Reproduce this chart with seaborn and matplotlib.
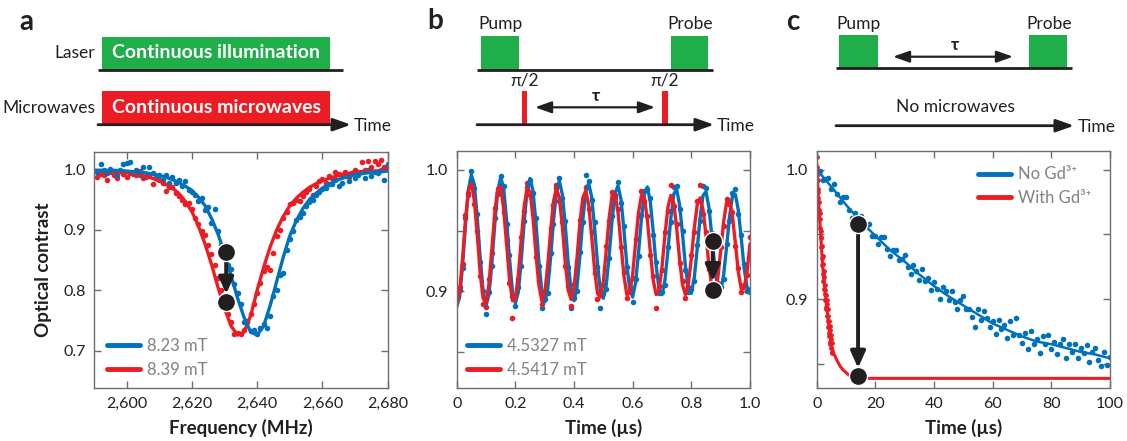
import numpy as np
import matplotlib
matplotlib.use("Agg")
import matplotlib.pyplot as plt
import seaborn as sns
from matplotlib.patches import Rectangle
from matplotlib.lines import Line2D

# ---------------- data ----------------
# Panel a: ODMR spectra (frequency in MHz)
freq_dots = np.arange(2591, 2681)
blue_a_dots = [0.996, 1.008, 0.999, 0.993, 1.000, 0.997, 0.990, 0.998, 1.008, 1.011,
               1.012, 0.994, 0.998, 0.991, 1.004, 0.989, 1.003, 0.993, 0.985, 0.991,
               0.983, 0.990, 0.978, 0.987, 0.978, 0.982, 0.972, 0.980, 0.966, 0.963,
               0.958, 0.948, 0.952, 0.932, 0.938, 0.911, 0.935, 0.898, 0.874, 0.875,
               0.842, 0.835, 0.810, 0.795, 0.778, 0.748, 0.750, 0.732, 0.735, 0.728,
               0.738, 0.745, 0.737, 0.758, 0.790, 0.800, 0.826, 0.829, 0.866, 0.885,
               0.898, 0.916, 0.921, 0.928, 0.940, 0.946, 0.950, 0.958, 0.962, 0.967,
               0.969, 0.975, 0.976, 0.982, 0.972, 0.978, 0.989, 0.980, 0.993, 0.986,
               0.990, 0.996, 0.985, 0.998, 0.989, 0.996, 0.993, 0.999, 0.982, 1.009]
red_a_dots = [0.987, 0.992, 0.990, 0.983, 0.995, 0.991, 0.986, 0.997, 0.992, 0.988,
              0.994, 0.992, 0.990, 0.997, 0.985, 0.988, 0.991, 0.975, 0.985, 0.982,
              0.978, 0.964, 0.970, 0.970, 0.960, 0.955, 0.950, 0.942, 0.945, 0.935,
              0.920, 0.910, 0.898, 0.892, 0.875, 0.860, 0.842, 0.820, 0.800, 0.780,
              0.760, 0.748, 0.728, 0.730, 0.727, 0.735, 0.748, 0.760, 0.778, 0.795,
              0.812, 0.832, 0.838, 0.834, 0.862, 0.890, 0.900, 0.920, 0.930, 0.942,
              0.945, 0.950, 0.948, 0.956, 0.962, 0.968, 0.958, 0.972, 0.981, 0.984,
              0.978, 0.989, 0.985, 0.995, 0.992, 0.990, 0.996, 0.988, 0.993, 0.998,
              0.995, 1.012, 0.999, 1.013, 1.003, 1.014, 1.008, 1.015, 1.003, 1.005]
freq_fit = np.arange(2590, 2681, 2)
blue_a_fit = [0.998, 0.998, 0.998, 0.998, 0.998, 0.997, 0.996, 0.995, 0.994, 0.992,
              0.990, 0.987, 0.983, 0.978, 0.972, 0.965, 0.954, 0.940, 0.919, 0.893,
              0.861, 0.824, 0.787, 0.755, 0.731, 0.726, 0.741, 0.775, 0.815, 0.855,
              0.890, 0.915, 0.935, 0.950, 0.960, 0.969, 0.975, 0.981, 0.985, 0.988,
              0.991, 0.993, 0.994, 0.995, 0.996, 0.997]
red_a_fit = [0.998, 0.998, 0.997, 0.996, 0.995, 0.994, 0.993, 0.991, 0.988, 0.985,
             0.981, 0.975, 0.969, 0.960, 0.947, 0.930, 0.906, 0.877, 0.843, 0.805,
             0.770, 0.741, 0.726, 0.731, 0.758, 0.800, 0.838, 0.872, 0.900, 0.922,
             0.940, 0.952, 0.962, 0.970, 0.976, 0.981, 0.985, 0.988, 0.991, 0.993,
             0.995, 0.996, 0.997, 0.997, 0.998, 0.998]
legend_a = ["8.23 mT", "8.39 mT"]
marker_a_x = [2630.5, 2630.5]
marker_a_y = [0.864, 0.780]

# Panel b: Ramsey fringes (time in us)
time_b = np.round(np.arange(101) * 0.01, 2)
blue_b_fit = [0.887, 0.895, 0.921, 0.955, 0.984, 0.996, 0.988, 0.961, 0.928, 0.900,
              0.888, 0.897, 0.923, 0.956, 0.983, 0.994, 0.985, 0.959, 0.927, 0.900,
              0.890, 0.899, 0.925, 0.957, 0.983, 0.993, 0.983, 0.957, 0.925, 0.900,
              0.891, 0.901, 0.927, 0.958, 0.982, 0.991, 0.980, 0.955, 0.924, 0.900,
              0.892, 0.903, 0.929, 0.959, 0.982, 0.989, 0.978, 0.953, 0.923, 0.900,
              0.894, 0.905, 0.930, 0.959, 0.981, 0.987, 0.976, 0.951, 0.922, 0.901,
              0.895, 0.907, 0.932, 0.960, 0.980, 0.986, 0.974, 0.949, 0.921, 0.901,
              0.897, 0.909, 0.933, 0.960, 0.980, 0.984, 0.971, 0.947, 0.920, 0.902,
              0.898, 0.911, 0.935, 0.961, 0.979, 0.982, 0.969, 0.945, 0.920, 0.902,
              0.900, 0.913, 0.936, 0.961, 0.978, 0.980, 0.967, 0.944, 0.919, 0.903,
              0.901]
blue_b_dots = [0.893, 0.901, 0.919, 0.960, 0.981, 0.999, 0.985, 0.964, 0.924, 0.900,
               0.881, 0.899, 0.921, 0.960, 0.980, 0.995, 0.987, 0.955, 0.930, 0.896,
               0.888, 0.903, 0.921, 0.958, 0.986, 0.992, 0.981, 0.960, 0.921, 0.886,
               0.893, 0.898, 0.931, 0.955, 0.985, 0.993, 0.977, 0.958, 0.920, 0.886,
               0.894, 0.900, 0.932, 0.957, 0.996, 0.991, 0.975, 0.957, 0.920, 0.886,
               0.898, 0.902, 0.927, 0.962, 0.979, 0.990, 0.973, 0.954, 0.920, 0.903,
               0.891, 0.910, 0.929, 0.963, 0.983, 0.984, 0.977, 0.946, 0.924, 0.898,
               0.899, 0.905, 0.936, 0.957, 0.986, 0.987, 0.968, 0.950, 0.917, 0.899,
               0.902, 0.908, 0.938, 0.958, 0.987, 0.985, 0.966, 0.948, 0.917, 0.905,
               0.903, 0.910, 0.939, 0.958, 0.981, 0.984, 0.964, 0.946, 0.922, 0.900,
               0.899]
red_b_fit = [0.888, 0.900, 0.927, 0.959, 0.983, 0.989, 0.975, 0.947, 0.915, 0.894,
             0.890, 0.906, 0.935, 0.965, 0.985, 0.986, 0.968, 0.939, 0.910, 0.892,
             0.893, 0.913, 0.942, 0.970, 0.985, 0.982, 0.961, 0.931, 0.905, 0.892,
             0.898, 0.920, 0.949, 0.974, 0.985, 0.977, 0.954, 0.924, 0.901, 0.893,
             0.903, 0.927, 0.956, 0.977, 0.983, 0.971, 0.946, 0.918, 0.898, 0.895,
             0.908, 0.934, 0.961, 0.979, 0.980, 0.965, 0.939, 0.913, 0.897, 0.898,
             0.914, 0.940, 0.965, 0.979, 0.977, 0.959, 0.933, 0.909, 0.897, 0.901,
             0.920, 0.946, 0.969, 0.979, 0.973, 0.952, 0.926, 0.905, 0.897, 0.906,
             0.927, 0.952, 0.971, 0.977, 0.967, 0.946, 0.921, 0.903, 0.899, 0.910,
             0.933, 0.957, 0.973, 0.975, 0.962, 0.940, 0.916, 0.902, 0.902, 0.916,
             0.939]
red_b_dots = [0.896, 0.903, 0.922, 0.963, 0.979, 0.992, 0.972, 0.950, 0.912, 0.889,
              0.887, 0.910, 0.931, 0.969, 0.982, 0.988, 0.965, 0.942, 0.907, 0.878,
              0.896, 0.910, 0.945, 0.966, 0.989, 0.979, 0.964, 0.928, 0.908, 0.889,
              0.900, 0.917, 0.952, 0.971, 0.988, 0.974, 0.957, 0.921, 0.904, 0.888,
              0.906, 0.924, 0.959, 0.973, 0.986, 0.968, 0.949, 0.915, 0.893, 0.898,
              0.905, 0.937, 0.958, 0.982, 0.977, 0.968, 0.936, 0.916, 0.894, 0.901,
              0.911, 0.943, 0.962, 0.983, 0.974, 0.962, 0.930, 0.912, 0.886, 0.904,
              0.917, 0.949, 0.966, 0.988, 0.970, 0.955, 0.923, 0.908, 0.894, 0.903,
              0.930, 0.949, 0.974, 0.988, 0.964, 0.949, 0.918, 0.898, 0.902, 0.907,
              0.936, 0.954, 0.976, 0.972, 0.965, 0.937, 0.919, 0.899, 0.905, 0.913,
              0.945]
legend_b = ["4.5327 mT", "4.5417 mT"]
marker_b_x = [0.873, 0.873]
marker_b_y = [0.941, 0.901]

# Panel c: relaxation (time in us)
time_c_dots = np.arange(0, 101)
blue_c_dots = [0.999, 0.999, 0.992, 0.993, 0.994, 0.985, 0.989, 0.981, 0.975, 0.979,
               0.979, 0.969, 0.963, 0.967, 0.963, 0.964, 0.955, 0.957, 0.958, 0.949,
               0.949, 0.943, 0.948, 0.948, 0.939, 0.933, 0.938, 0.938, 0.930, 0.931,
               0.934, 0.925, 0.919, 0.926, 0.922, 0.915, 0.923, 0.914, 0.916, 0.907,
               0.913, 0.908, 0.900, 0.909, 0.906, 0.899, 0.906, 0.898, 0.892, 0.899,
               0.902, 0.892, 0.892, 0.886, 0.878, 0.892, 0.884, 0.891, 0.885, 0.878,
               0.883, 0.873, 0.884, 0.877, 0.880, 0.870, 0.883, 0.872, 0.885, 0.872,
               0.866, 0.874, 0.861, 0.875, 0.865, 0.869, 0.858, 0.871, 0.865, 0.872,
               0.861, 0.867, 0.857, 0.865, 0.869, 0.854, 0.865, 0.859, 0.865, 0.854,
               0.862, 0.858, 0.864, 0.851, 0.859, 0.862, 0.853, 0.848, 0.859, 0.849,
               0.855]
time_c_fit_blue = [0, 2, 5, 10, 15, 20, 25, 30, 35, 40, 45, 50, 55, 60, 65, 70, 75,
                   80, 85, 90, 95, 100]
blue_c_fit = [1.000, 0.995, 0.987, 0.973, 0.960, 0.949, 0.938, 0.929, 0.919, 0.910,
              0.902, 0.895, 0.888, 0.881, 0.876, 0.871, 0.867, 0.865, 0.862, 0.859,
              0.857, 0.854]
time_c_red_dots = np.round(np.arange(54) * 0.1, 1)
red_c_dots = [1.010, 0.996, 1.002, 0.985, 0.992, 0.978, 0.983, 0.969, 0.975, 0.962,
              0.967, 0.955, 0.962, 0.948, 0.953, 0.940, 0.947, 0.932, 0.941, 0.926,
              0.933, 0.919, 0.927, 0.914, 0.922, 0.908, 0.917, 0.904, 0.911, 0.899,
              0.907, 0.894, 0.903, 0.892, 0.899, 0.887, 0.896, 0.883, 0.892, 0.878,
              0.887, 0.874, 0.883, 0.871, 0.879, 0.867, 0.876, 0.865, 0.872, 0.862,
              0.869, 0.859, 0.866, 0.858]
time_c_fit_red = [0, 0.5, 1, 1.5, 2, 2.5, 3, 3.5, 4, 4.5, 5, 6, 7, 8, 9, 10, 11, 12,
                  14, 16, 100]
red_c_fit = [1.005, 0.982, 0.963, 0.944, 0.927, 0.913, 0.902, 0.893, 0.882, 0.872,
             0.864, 0.857, 0.852, 0.848, 0.845, 0.843, 0.841, 0.840, 0.839, 0.8385,
             0.8385]
legend_c = ["No Gd³⁺", "With Gd³⁺"]
marker_c_x = [14.1, 14.1]
marker_c_y = [0.958, 0.840]

# ---------------- style ----------------
sns.set_style("ticks")
plt.rcParams['font.family'] = ['Lato', 'DejaVu Sans']

BLUE = '#0072BC'
RED = '#ED1C24'
GREEN = '#20AE4A'
DARK = '#231F20'
FRAME = '#6D6E71'
LEGTXT = '#808285'

fig = plt.figure(figsize=(11.27, 4.41), dpi=100)

# overlay for the timing diagrams (pixel coordinates)
ov = fig.add_axes([0, 0, 1, 1])
ov.set_xlim(0, 1127)
ov.set_ylim(441, 0)
ov.axis('off')
ov.patch.set_visible(False)


def hline(x1, x2, y, arrow=False):
    if arrow:
        ov.annotate('', xy=(x2, y), xytext=(x1, y),
                    arrowprops=dict(arrowstyle='-|>,head_length=0.9,head_width=0.32',
                                    lw=2, color=DARK, mutation_scale=12,
                                    shrinkA=0, shrinkB=0))
    else:
        ov.plot([x1, x2], [y, y], color=DARK, lw=2, solid_capstyle='butt')


def darrow(x1, x2, y):
    ov.annotate('', xy=(x2, y), xytext=(x1, y),
                arrowprops=dict(arrowstyle='<|-|>,head_length=0.9,head_width=0.32',
                                lw=1.6, color=DARK, mutation_scale=11,
                                shrinkA=0, shrinkB=0))


def box(x1, y1, x2, y2, color):
    ov.add_patch(Rectangle((x1, y1), x2 - x1, y2 - y1, facecolor=color,
                           edgecolor='none'))


LBL = 12.5
# panel a diagram
ov.text(26, 22, 'a', fontsize=20, fontweight='bold', ha='center', va='center', color=DARK)
box(101.7, 36.7, 330, 70, GREEN)
hline(98, 343, 70)
ov.text(216, 53, 'Continuous illumination', color='white', fontsize=14,
        fontweight='bold', ha='center', va='center')
ov.text(95, 53, 'Laser', fontsize=LBL, ha='right', va='center', color=DARK)
box(101.7, 90.7, 330, 124, RED)
hline(98, 351, 124.7, arrow=True)
ov.text(216, 107.5, 'Continuous microwaves', color='white', fontsize=14,
        fontweight='bold', ha='center', va='center')
ov.text(95, 108, 'Microwaves', fontsize=LBL, ha='right', va='center', color=DARK)
ov.text(354, 126, 'Time', fontsize=LBL, ha='left', va='center', color=DARK)

# panel b diagram
ov.text(435, 21, 'b', fontsize=20, fontweight='bold', ha='center', va='center', color=DARK)
ov.text(478.7, 24, 'Pump', fontsize=LBL, ha='left', va='center', color=DARK)
ov.text(690, 24, 'Probe', fontsize=LBL, ha='center', va='center', color=DARK)
box(480.7, 36, 519, 70, GREEN)
box(670.7, 36, 708.3, 70, GREEN)
hline(477, 713, 70)
box(521.5, 90.7, 527, 124, RED)
box(662.3, 90.7, 667.8, 124, RED)
ov.text(524.3, 80, 'π/2', fontsize=LBL, ha='center', va='center', color=DARK)
ov.text(665, 80, 'π/2', fontsize=LBL, ha='center', va='center', color=DARK)
darrow(535, 655, 107.3)
ov.text(596, 96, 'τ', fontsize=LBL, fontweight='bold', ha='center', va='center', color=DARK)
hline(477, 714, 124.7, arrow=True)
ov.text(717, 126, 'Time', fontsize=LBL, ha='left', va='center', color=DARK)

# panel c diagram
ov.text(792.5, 22, 'c', fontsize=20, fontweight='bold', ha='center', va='center', color=DARK)
ov.text(836, 24, 'Pump', fontsize=LBL, ha='left', va='center', color=DARK)
ov.text(1049, 24, 'Probe', fontsize=LBL, ha='center', va='center', color=DARK)
box(839.3, 35, 877.7, 67.5, GREEN)
box(1029, 35, 1067, 67.5, GREEN)
hline(836, 1072, 68)
darrow(893, 1013, 56.7)
ov.text(955, 45, 'τ', fontsize=LBL, fontweight='bold', ha='center', va='center', color=DARK)
ov.text(955, 107, 'No microwaves', fontsize=LBL, ha='center', va='center', color=DARK)
hline(836, 1074, 125.7, arrow=True)
ov.text(1078, 127, 'Time', fontsize=LBL, ha='left', va='center', color=DARK)


def style(ax):
    for s in ax.spines.values():
        s.set_visible(True)
        s.set_color(FRAME)
        s.set_linewidth(1.0)
    ax.tick_params(direction='in', length=5, width=1, color=FRAME, top=True,
                   right=True, labelsize=11.5, labelcolor=DARK, pad=6)


def markers(ax, xs, ys):
    ax.annotate('', xy=(xs[1], ys[1]), xytext=(xs[0], ys[0]),
                arrowprops=dict(arrowstyle='-|>,head_length=0.9,head_width=0.4',
                                lw=2.8, color=DARK, mutation_scale=11,
                                shrinkA=6, shrinkB=6), zorder=6)
    sns.scatterplot(x=xs, y=ys, ax=ax, color=DARK, s=170, edgecolor='white',
                    linewidth=1.0, zorder=7, legend=False)


def legend(ax, labels, **kw):
    handles = [Line2D([], [], color=BLUE, lw=3.5), Line2D([], [], color=RED, lw=3.5)]
    leg = ax.legend(handles, labels, frameon=False, fontsize=12, handlelength=2.0,
                    handletextpad=0.4, labelspacing=0.45, borderpad=0,
                    borderaxespad=0, **kw)
    for t in leg.get_texts():
        t.set_color(LEGTXT)


ms = 16
# ---------- panel a ----------
axa = fig.add_axes([94 / 1127, 1 - 388.3 / 441, 293.7 / 1127, 236.6 / 441])
sns.scatterplot(x=freq_dots, y=red_a_dots, ax=axa, color=RED, s=ms, linewidth=0, legend=False)
sns.lineplot(x=freq_fit, y=red_a_fit, ax=axa, color=RED, lw=2.4, estimator=None, sort=False)
sns.scatterplot(x=freq_dots, y=blue_a_dots, ax=axa, color=BLUE, s=ms, linewidth=0, legend=False)
sns.lineplot(x=freq_fit, y=blue_a_fit, ax=axa, color=BLUE, lw=2.4, estimator=None, sort=False)
markers(axa, marker_a_x, marker_a_y)
axa.set_xlim(2590, 2680)
axa.set_ylim(0.638, 1.029)
axa.set_xticks([2600, 2620, 2640, 2660, 2680])
axa.set_xticklabels(['2,600', '2,620', '2,640', '2,660', '2,680'])
axa.set_yticks([0.7, 0.8, 0.9, 1.0])
axa.set_yticklabels(['0.7', '0.8', '0.9', '1.0'])
style(axa)
axa.set_xlabel('Frequency (MHz)', fontsize=13.5, fontweight='bold', color=DARK, labelpad=6)
axa.set_ylabel('Optical contrast', fontsize=13.5, fontweight='bold', color=DARK, labelpad=8)
legend(axa, legend_a, loc='lower left', bbox_to_anchor=(0.044, 0.045))

# ---------- panel b ----------
axb = fig.add_axes([456.7 / 1127, 1 - 388.3 / 441, 293.3 / 1127, 237.3 / 441])
sns.scatterplot(x=time_b, y=blue_b_dots, ax=axb, color=BLUE, s=ms, linewidth=0, legend=False)
sns.lineplot(x=time_b, y=blue_b_fit, ax=axb, color=BLUE, lw=2.4, estimator=None, sort=False)
sns.scatterplot(x=time_b, y=red_b_dots, ax=axb, color=RED, s=ms, linewidth=0, legend=False)
sns.lineplot(x=time_b, y=red_b_fit, ax=axb, color=RED, lw=2.4, estimator=None, sort=False)
markers(axb, marker_b_x, marker_b_y)
axb.set_xlim(0, 1.0)
axb.set_ylim(0.8196, 1.0157)
axb.set_xticks([0, 0.2, 0.4, 0.6, 0.8, 1.0])
axb.set_xticklabels(['0', '0.2', '0.4', '0.6', '0.8', '1.0'])
axb.set_yticks([0.85, 0.9, 0.95, 1.0])
axb.set_yticklabels(['', '0.9', '', '1.0'])
style(axb)
axb.set_xlabel('Time (µs)', fontsize=13.5, fontweight='bold', color=DARK, labelpad=6)
axb.set_ylabel('')
legend(axb, legend_b, loc='lower left', bbox_to_anchor=(0.034, 0.045))

# ---------- panel c ----------
axc = fig.add_axes([816.7 / 1127, 1 - 388.3 / 441, 293.3 / 1127, 237.3 / 441])
sns.scatterplot(x=time_c_dots, y=blue_c_dots, ax=axc, color=BLUE, s=ms, linewidth=0, legend=False)
sns.lineplot(x=time_c_fit_blue, y=blue_c_fit, ax=axc, color=BLUE, lw=1.8, estimator=None, sort=False)
sns.scatterplot(x=time_c_red_dots, y=red_c_dots, ax=axc, color=RED, s=12, linewidth=0, legend=False)
sns.lineplot(x=time_c_fit_red, y=red_c_fit, ax=axc, color=RED, lw=2.2, estimator=None, sort=False)
markers(axc, marker_c_x, marker_c_y)
axc.set_xlim(0, 100)
axc.set_ylim(0.8308, 1.0147)
axc.set_xticks([0, 20, 40, 60, 80, 100])
axc.set_xticklabels(['0', '20', '40', '60', '80', '100'])
axc.set_yticks([0.85, 0.9, 0.95, 1.0])
axc.set_yticklabels(['', '0.9', '', '1.0'])
style(axc)
axc.set_xlabel('Time (µs)', fontsize=13.5, fontweight='bold', color=DARK, labelpad=6)
axc.set_ylabel('')
legend(axc, legend_c, loc='upper right', bbox_to_anchor=(0.935, 0.935))

fig.savefig('out.png', dpi=100)
